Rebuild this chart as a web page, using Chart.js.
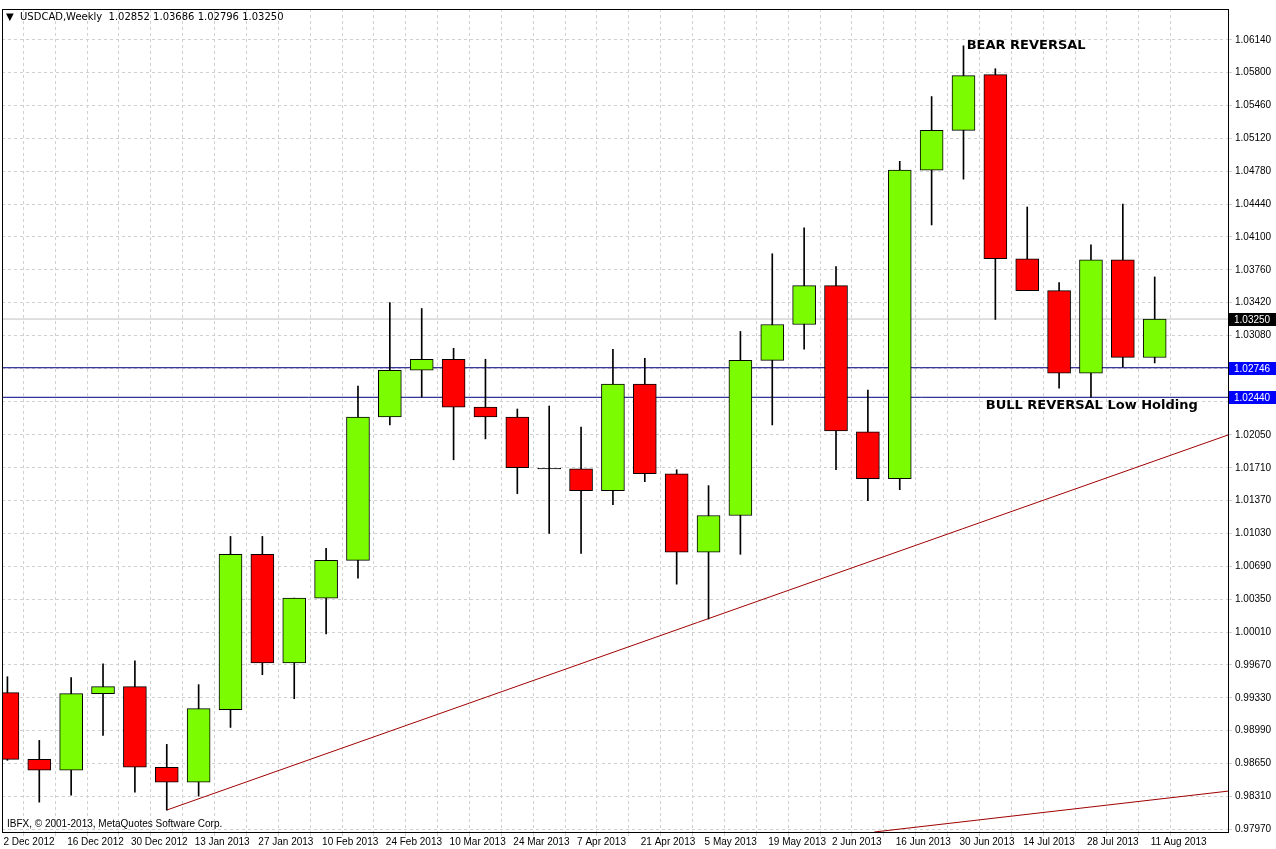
<!DOCTYPE html>
<html>
<head>
<meta charset="utf-8">
<script src="https://cdn.jsdelivr.net/npm/chart.js@4"></script>
<style>
  html, body { margin: 0; padding: 0; background: #fff; }
  #wrap { width: 1276px; height: 849px; }
</style>
</head>
<body>
<div id="wrap"><canvas id="chart" width="1276" height="849"></canvas></div>
<script>
// weekly USDCAD candles
const weeks = ["2 Dec 2012", "", "16 Dec 2012", "", "30 Dec 2012", "", "13 Jan 2013", "", "27 Jan 2013", "", "10 Feb 2013", "", "24 Feb 2013", "", "10 Mar 2013", "", "24 Mar 2013", "", "7 Apr 2013", "", "21 Apr 2013", "", "5 May 2013", "", "19 May 2013", "", "2 Jun 2013", "", "16 Jun 2013", "", "30 Jun 2013", "", "14 Jul 2013", "", "28 Jul 2013", "", "11 Aug 2013"];
const opens  = [0.99383, 0.98693, 0.98580, 0.99373, 0.99445, 0.98611, 0.98456, 0.99208, 1.00815, 0.99692, 1.00362, 1.00753, 1.02236, 1.02720, 1.02834, 1.02339, 1.02236, 1.01701, 1.01701, 1.01474, 1.02576, 1.01649, 1.00836, 1.01217, 1.02823, 1.03194, 1.03596, 1.02082, 1.01598, 1.04791, 1.05203, 1.05780, 1.03874, 1.03544, 1.02690, 1.03864, 1.02852];
const closes = [0.98693, 0.98580, 0.99373, 0.99445, 0.98611, 0.98456, 0.99218, 1.00815, 0.99692, 1.00362, 1.00753, 1.02236, 1.02720, 1.02834, 1.02339, 1.02236, 1.01711, 1.01701, 1.01474, 1.02576, 1.01649, 1.00836, 1.01217, 1.02823, 1.03194, 1.03596, 1.02092, 1.01598, 1.04791, 1.05203, 1.05769, 1.03874, 1.03544, 1.02690, 1.03864, 1.02854, 1.03250];
const highs  = [0.99548, 0.98889, 0.99538, 0.99682, 0.99713, 0.98848, 0.99466, 1.01000, 1.01000, 1.00362, 1.00877, 1.02556, 1.03421, 1.03359, 1.02947, 1.02834, 1.02319, 1.02350, 1.02133, 1.02937, 1.02844, 1.01690, 1.01526, 1.03122, 1.03926, 1.04193, 1.03792, 1.02514, 1.04883, 1.05553, 1.06078, 1.05841, 1.04410, 1.03627, 1.04018, 1.04441, 1.03686];
const lows   = [0.98683, 0.98250, 0.98322, 0.98940, 0.98353, 0.98168, 0.98312, 0.99023, 0.99569, 0.99321, 0.99991, 1.00568, 1.02154, 1.02442, 1.01793, 1.02010, 1.01443, 1.01031, 1.00825, 1.01330, 1.01567, 1.00506, 1.00145, 1.00815, 1.02154, 1.02937, 1.01690, 1.01371, 1.01484, 1.04224, 1.04698, 1.03246, 1.03544, 1.02535, 1.02442, 1.02751, 1.02796];

const priceTicks = [1.06140, 1.05800, 1.05460, 1.05120, 1.04780, 1.04440, 1.04100, 1.03760, 1.03420, 1.03080, 1.02740, 1.02400, 1.02050, 1.01710, 1.01370, 1.01030, 1.00690, 1.00350, 1.00010, 0.99670, 0.99330, 0.98990, 0.98650, 0.98310, 0.97970];
const levelLines = [1.02746, 1.02440];
const lastPrice = 1.03250;
const trendMain = [[5, 0.98168], [38.3, 1.02050]];
const trendLow = [[27.2, 0.97941], [38.3, 0.98364]];

const xMin = -0.17, xMax = 38.3, yMin = 0.97941, yMax = 1.06459;

const idx = opens.map((_, i) => i);
const bodyColor = idx.map(i => closes[i] > opens[i] ? "#7cfc00" : (closes[i] < opens[i] ? "#ff0000" : "#000000"));
const bodies = idx.map(i => ({ x: i, y: closes[i] === opens[i] ? [opens[i] - 0.00003, opens[i] + 0.00003] : [opens[i], closes[i]] }));
const wicks = idx.map(i => ({ x: i, y: [lows[i], highs[i]] }));

const overlay = {
  id: "overlay",
  afterDraw(chart) {
    const { ctx, chartArea: a, scales: { x, y } } = chart;
    ctx.save();
    ctx.strokeStyle = "#000";
    ctx.lineWidth = 1;
    ctx.strokeRect(a.left + 0.5, a.top + 0.5, a.right - a.left, a.bottom - a.top);
    ctx.font = "10px 'Liberation Sans'";
    ctx.textBaseline = "middle";
    const tag = (v, bg) => {
      const py = Math.round(y.getPixelForValue(v));
      ctx.fillStyle = bg;
      ctx.fillRect(a.right + 1, py - 6, 47, 13);
      ctx.fillStyle = "#fff";
      ctx.fillText(v.toFixed(5), a.right + 6, py + 1);
    };
    tag(lastPrice, "#000");
    levelLines.forEach(v => tag(v, "#0000ff"));
    ctx.fillStyle = "#000";
    ctx.font = "10px 'DejaVu Sans'";
    ctx.fillText("\u25BC  USDCAD,Weekly  1.02852 1.03686 1.02796 1.03250", a.left + 4, a.top + 8);
    ctx.font = "10px 'Liberation Sans'";
    ctx.fillText("IBFX, \u00A9 2001-2013, MetaQuotes Software Corp.", a.left + 5, a.bottom - 8);
    ctx.font = "bold 13px 'DejaVu Sans'";
    ctx.fillText("BEAR REVERSAL", x.getPixelForValue(30.1), y.getPixelForValue(1.0608));
    ctx.fillText("BULL REVERSAL Low Holding", x.getPixelForValue(30.7), y.getPixelForValue(1.0235));
    ctx.restore();
  }
};

new Chart(document.getElementById("chart"), {
  data: {
    datasets: [
      { type: "line", data: [{ x: xMin, y: lastPrice }, { x: xMax, y: lastPrice }], borderColor: "#c0c0c0", borderWidth: 1, pointRadius: 0, order: 5 },
      { type: "line", data: [{ x: xMin, y: levelLines[0] }, { x: xMax, y: levelLines[0] }], borderColor: "#000080", borderWidth: 1, pointRadius: 0, order: 4 },
      { type: "line", data: [{ x: xMin, y: levelLines[1] }, { x: xMax, y: levelLines[1] }], borderColor: "#000080", borderWidth: 1, pointRadius: 0, order: 4 },
      { type: "line", data: trendMain.map(([a, b]) => ({ x: a, y: b })), borderColor: "#a00000", borderWidth: 1, pointRadius: 0, order: 4 },
      { type: "line", data: trendLow.map(([a, b]) => ({ x: a, y: b })), borderColor: "#a00000", borderWidth: 1, pointRadius: 0, order: 4 },
      { type: "bar", data: wicks, backgroundColor: "#000", barThickness: 1, grouped: false, order: 3 },
      { type: "bar", data: bodies, backgroundColor: bodyColor, borderColor: "#000", borderWidth: 1, borderSkipped: false, barThickness: 23, grouped: false, order: 1 }
    ]
  },
  options: {
    responsive: false,
    animation: false,
    layout: { padding: { left: 2, top: 3, right: 0, bottom: 0 } },
    plugins: { legend: { display: false }, tooltip: { enabled: false } },
    scales: {
      x: {
        type: "linear", min: xMin, max: xMax, offset: false,
        afterBuildTicks: s => { s.ticks = idx.map(i => ({ value: i })); },
        afterFit: s => { s.height = 17; },
        grid: { color: "#d0d0d0", tickLength: 4, drawTicks: true },
        border: { display: false, dash: [3, 3] },
        ticks: { autoSkip: false, maxRotation: 0, align: "start", labelOffset: -4, padding: 0, color: "#000", font: { family: "Liberation Sans", size: 10 }, callback: v => weeks[v] || "" }
      },
      y: {
        type: "linear", position: "right", min: yMin, max: yMax,
        afterBuildTicks: s => { s.ticks = priceTicks.map(v => ({ value: v })); },
        afterFit: s => { s.width = 48; },
        grid: { color: "#d0d0d0", tickLength: 4 },
        border: { display: false, dash: [3, 3] },
        ticks: { autoSkip: false, padding: 3, color: "#000", font: { family: "Liberation Sans", size: 10 }, callback: v => v.toFixed(5) }
      }
    }
  },
  plugins: [overlay]
});
</script>
</body>
</html>
